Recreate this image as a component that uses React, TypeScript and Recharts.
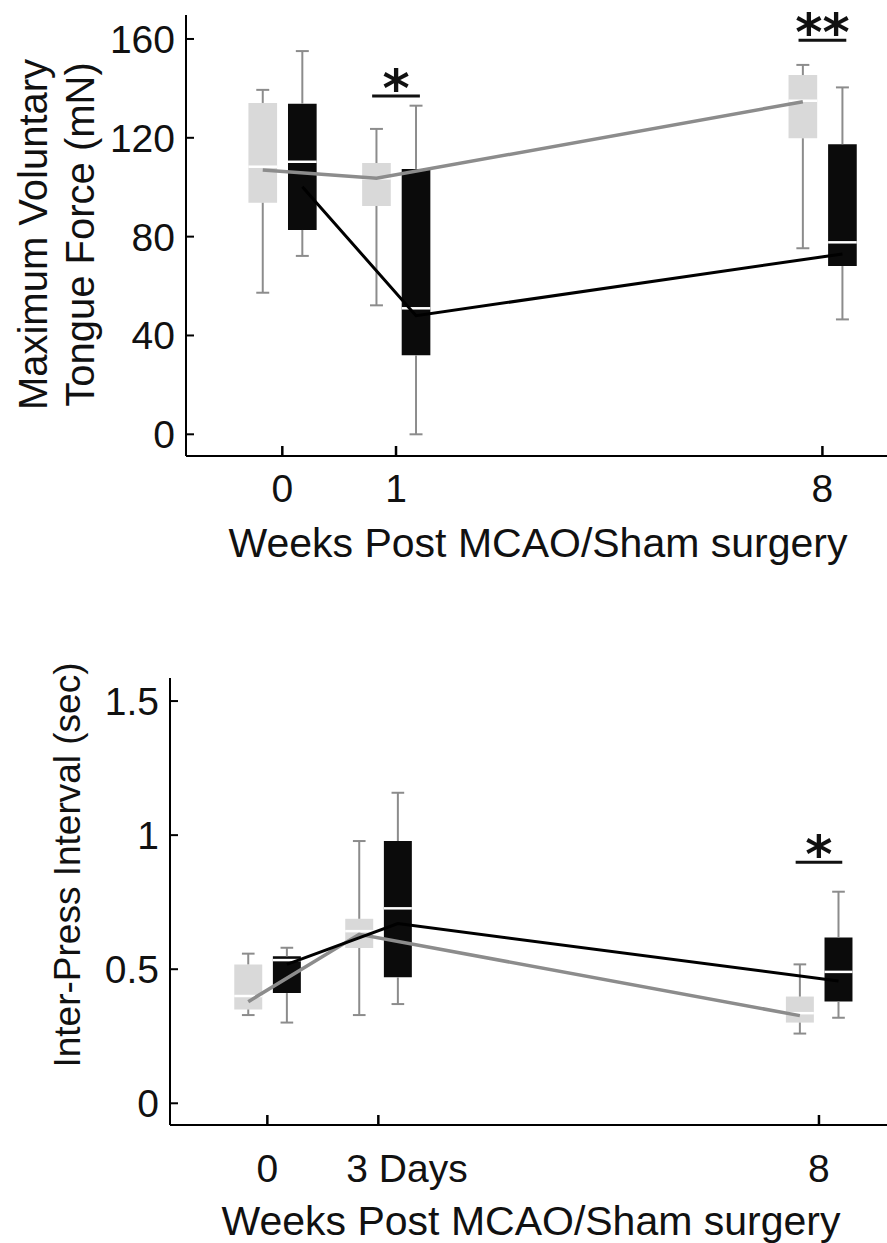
import React from "react";
import {
  ComposedChart,
  Line,
  XAxis,
  YAxis,
  ReferenceArea,
  ReferenceLine,
  ReferenceDot,
  Label,
} from "recharts";

const FONT = '"Liberation Sans", Arial, Helvetica, sans-serif';
const STAR_FONT = '"DejaVu Sans", "Liberation Sans", sans-serif';
const INK = "#111";
const WHISKER = "#8c8c8c";
const SHAM_BOX = "#d9d9d9";
const MCAO_BOX = "#0b0b0b";
const SHAM_LINE = "#8c8c8c";
const MCAO_LINE = "#000";

// ---- top panel: maximum voluntary tongue force (mN)
const forceWeeks = ["0", "1", "8"];
const forceWeekPos = [0, 1, 4.75];
const forceTicks = [0, 40, 80, 120, 160];
const forceShamHigh = [139.4, 123.6, 149.5];
const forceShamQ3 = [134.1, 109.8, 145.4];
const forceShamMedian = [108.3, 103.6, 135];
const forceShamQ1 = [93.7, 92.4, 119.8];
const forceShamLow = [57.3, 52.2, 75.3];
const forceShamMean = [107, 103.6, 134.6];
const forceMcaoHigh = [155.1, 133, 140.4];
const forceMcaoQ3 = [133.8, 107.4, 117.4];
const forceMcaoMedian = [110.3, 51, 77.7];
const forceMcaoQ1 = [82.7, 32, 68.1];
const forceMcaoLow = [72.2, 0, 46.5];
const forceMcaoMean = [100.2, 48, 73];
const forceSig = [
  { at: 1, y: 136.9, mark: "*" },
  { at: 2, y: 159.5, mark: "**" },
];

// ---- bottom panel: inter-press interval (sec)
const ipiWeeks = ["0", "3 Days", "8"];
const ipiWeekPos = [0, 1, 4.97];
const ipiTicks = [0, 0.5, 1, 1.5];
const ipiShamHigh = [0.558, 0.978, 0.518];
const ipiShamQ3 = [0.518, 0.688, 0.398];
const ipiShamMedian = [0.4, 0.642, 0.336];
const ipiShamQ1 = [0.35, 0.579, 0.301];
const ipiShamLow = [0.329, 0.329, 0.26];
const ipiShamMean = [0.379, 0.63, 0.327];
const ipiMcaoHigh = [0.58, 1.158, 0.789];
const ipiMcaoQ3 = [0.548, 0.978, 0.618];
const ipiMcaoMedian = [0.534, 0.727, 0.49];
const ipiMcaoQ1 = [0.411, 0.47, 0.38];
const ipiMcaoLow = [0.301, 0.37, 0.319];
const ipiMcaoMean = [0.518, 0.67, 0.456];
const ipiSig = [{ at: 2, y: 0.899, mark: "*" }];

// box geometry, in x-axis units (one unit = gap between first two time points)
const SHAM_OFF = -0.172;
const MCAO_OFF = 0.176;
const HALF_BOX = 0.126;
const HALF_CAP = 0.057;
const HALF_SIG = 0.21;

interface BoxSeries {
  high: number[];
  q3: number[];
  median: number[];
  q1: number[];
  low: number[];
}

function boxAreas(key: string, pos: number[], off: number, s: BoxSeries, fill: string) {
  return pos.map((p, i) => (
    <ReferenceArea
      key={`${key}-box-${i}`}
      x1={p + off - HALF_BOX}
      x2={p + off + HALF_BOX}
      y1={s.q1[i]}
      y2={s.q3[i]}
      fill={fill}
      fillOpacity={1}
      stroke="none"
      ifOverflow="visible"
    />
  ));
}

function boxLines(key: string, pos: number[], off: number, s: BoxSeries) {
  const out: React.ReactElement[] = [];
  pos.forEach((p, i) => {
    const x = p + off;
    const w = { stroke: WHISKER, strokeWidth: 2, ifOverflow: "visible" as const };
    out.push(
      <ReferenceLine key={`${key}-wl-${i}`} segment={[{ x, y: s.low[i] }, { x, y: s.q1[i] }]} {...w} />,
      <ReferenceLine key={`${key}-wh-${i}`} segment={[{ x, y: s.q3[i] }, { x, y: s.high[i] }]} {...w} />,
      <ReferenceLine key={`${key}-cl-${i}`} segment={[{ x: x - HALF_CAP, y: s.low[i] }, { x: x + HALF_CAP, y: s.low[i] }]} {...w} />,
      <ReferenceLine key={`${key}-ch-${i}`} segment={[{ x: x - HALF_CAP, y: s.high[i] }, { x: x + HALF_CAP, y: s.high[i] }]} {...w} />,
      <ReferenceLine
        key={`${key}-md-${i}`}
        segment={[{ x: x - HALF_BOX, y: s.median[i] }, { x: x + HALF_BOX, y: s.median[i] }]}
        stroke="#fff"
        strokeWidth={2.5}
        ifOverflow="visible"
      />
    );
  });
  return out;
}

function sigMarks(key: string, pos: number[], sig: { at: number; y: number; mark: string }[]) {
  const out: React.ReactElement[] = [];
  sig.forEach((s, i) => {
    const c = pos[s.at];
    out.push(
      <ReferenceLine
        key={`${key}-sig-${i}`}
        segment={[{ x: c - HALF_SIG, y: s.y }, { x: c + HALF_SIG, y: s.y }]}
        stroke="#111"
        strokeWidth={3}
        ifOverflow="visible"
      />,
      <ReferenceDot
        key={`${key}-star-${i}`}
        x={c}
        y={s.y}
        r={0}
        ifOverflow="visible"
        // eslint-disable-next-line @typescript-eslint/no-explicit-any
        shape={(p: any) => (
          <text x={p.cx} y={p.cy + 9.5} textAnchor="middle" fontSize={52} fontWeight={700} fontFamily={STAR_FONT} fill={INK}>
            {s.mark}
          </text>
        )}
      />
    );
  });
  return out;
}

const meanData = (pos: number[], off: number, vals: number[]) =>
  pos.map((p, i) => ({ x: p + off, y: vals[i] }));

// eslint-disable-next-line @typescript-eslint/no-explicit-any
const makeYTick = () => (props: any) => {
  const { x, y, payload } = props;
  return (
    <g>
      <line x1={x} x2={x + 8} y1={y} y2={y} stroke="#000" strokeWidth={2} />
      <text x={x - 11} y={y + 14} textAnchor="end" fontSize={39} fontFamily={FONT} fill={INK}>
        {String(payload.value)}
      </text>
    </g>
  );
};

// eslint-disable-next-line @typescript-eslint/no-explicit-any
const makeXTick = (pos: number[], labels: string[], drop: number) => (props: any) => {
  const { x, y, payload } = props;
  const label = labels[pos.indexOf(payload.value)] ?? "";
  const wordy = label.length > 2;
  return (
    <g>
      <line x1={x} x2={x} y1={y} y2={y - 10} stroke="#000" strokeWidth={2.5} />
      <text
        x={wordy ? x - 32 : x}
        y={y + drop}
        textAnchor={wordy ? "start" : "middle"}
        fontSize={39}
        fontFamily={FONT}
        fill={INK}
      >
        {label}
      </text>
    </g>
  );
};

const axisLine = { stroke: "#000", strokeWidth: 2 };

function ForcePanel() {
  const sham: BoxSeries = { high: forceShamHigh, q3: forceShamQ3, median: forceShamMedian, q1: forceShamQ1, low: forceShamLow };
  const mcao: BoxSeries = { high: forceMcaoHigh, q3: forceMcaoQ3, median: forceMcaoMedian, q1: forceMcaoQ1, low: forceMcaoLow };
  return (
    <ComposedChart width={887} height={580} margin={{ top: 15, right: 0, bottom: 0, left: 0 }}>
      <XAxis
        type="number"
        dataKey="x"
        domain={[-0.847, 5.318]}
        allowDataOverflow
        ticks={forceWeekPos}
        interval={0}
        height={124}
        axisLine={axisLine}
        tickLine={false}
        tickSize={0}
        tickMargin={0}
        tick={makeXTick(forceWeekPos, forceWeeks, 46)}
      >
        <Label
          // eslint-disable-next-line @typescript-eslint/no-explicit-any
          content={(p: any) => {
            const vb = p.viewBox ?? { x: 186, y: 456, width: 701 };
            return (
              <text x={vb.x + vb.width / 2 + 1.5} y={vb.y + 101} textAnchor="middle" fontSize={41} fontFamily={FONT} fill={INK}>
                Weeks Post MCAO/Sham surgery
              </text>
            );
          }}
        />
      </XAxis>
      <YAxis
        type="number"
        dataKey="y"
        domain={[-8.78, 169.7]}
        allowDataOverflow
        ticks={forceTicks}
        interval={0}
        width={186}
        axisLine={axisLine}
        tickLine={false}
        tickSize={0}
        tickMargin={0}
        tick={makeYTick()}
      >
        <Label
          // eslint-disable-next-line @typescript-eslint/no-explicit-any
          content={(p: any) => {
            const vb = p.viewBox ?? { x: 0, y: 15, height: 441 };
            const cy = vb.y + vb.height / 2 - 1;
            const bx = vb.x + 47;
            return (
              <text transform={`rotate(-90, ${bx}, ${cy})`} x={bx} y={cy} textAnchor="middle" fontSize={40} fontFamily={FONT} fill={INK}>
                <tspan x={bx} dy={0}>Maximum Voluntary</tspan>
                <tspan x={bx} dy={47}>Tongue Force (mN)</tspan>
              </text>
            );
          }}
        />
      </YAxis>

      {boxAreas("fs", forceWeekPos, SHAM_OFF, sham, SHAM_BOX)}
      {boxAreas("fm", forceWeekPos, MCAO_OFF, mcao, MCAO_BOX)}
      {boxLines("fs", forceWeekPos, SHAM_OFF, sham)}
      {boxLines("fm", forceWeekPos, MCAO_OFF, mcao)}

      <Line data={meanData(forceWeekPos, SHAM_OFF, forceShamMean)} dataKey="y" stroke={SHAM_LINE} strokeWidth={3.5} dot={false} activeDot={false} isAnimationActive={false} />
      <Line data={meanData(forceWeekPos, MCAO_OFF, forceMcaoMean)} dataKey="y" stroke={MCAO_LINE} strokeWidth={3} dot={false} activeDot={false} isAnimationActive={false} />

      {sigMarks("f", forceWeekPos, forceSig)}
    </ComposedChart>
  );
}

function IpiPanel() {
  const sham: BoxSeries = { high: ipiShamHigh, q3: ipiShamQ3, median: ipiShamMedian, q1: ipiShamQ1, low: ipiShamLow };
  const mcao: BoxSeries = { high: ipiMcaoHigh, q3: ipiMcaoQ3, median: ipiMcaoMedian, q1: ipiMcaoQ1, low: ipiMcaoLow };
  return (
    <ComposedChart width={887} height={623} margin={{ top: 58, right: 0, bottom: 0, left: 0 }}>
      <XAxis
        type="number"
        dataKey="x"
        domain={[-0.877, 5.583]}
        allowDataOverflow
        ticks={ipiWeekPos}
        interval={0}
        height={118}
        axisLine={axisLine}
        tickLine={false}
        tickSize={0}
        tickMargin={0}
        tick={makeXTick(ipiWeekPos, ipiWeeks, 57)}
      >
        <Label
          // eslint-disable-next-line @typescript-eslint/no-explicit-any
          content={(p: any) => {
            const vb = p.viewBox ?? { x: 170, y: 505, width: 717 };
            return (
              <text x={vb.x + vb.width / 2 + 2.5} y={vb.y + 110} textAnchor="middle" fontSize={41} fontFamily={FONT} fill={INK}>
                Weeks Post MCAO/Sham surgery
              </text>
            );
          }}
        />
      </XAxis>
      <YAxis
        type="number"
        dataKey="y"
        domain={[-0.081, 1.586]}
        allowDataOverflow
        ticks={ipiTicks}
        interval={0}
        width={170}
        axisLine={axisLine}
        tickLine={false}
        tickSize={0}
        tickMargin={0}
        tick={makeYTick()}
      >
        <Label
          // eslint-disable-next-line @typescript-eslint/no-explicit-any
          content={(p: any) => {
            const vb = p.viewBox ?? { x: 0, y: 58, height: 447 };
            const cy = vb.y + 187;
            const bx = vb.x + 80;
            return (
              <text transform={`rotate(-90, ${bx}, ${cy})`} x={bx} y={cy} textAnchor="middle" fontSize={37} fontFamily={FONT} fill={INK}>
                Inter-Press Interval (sec)
              </text>
            );
          }}
        />
      </YAxis>

      {boxAreas("is", ipiWeekPos, SHAM_OFF, sham, SHAM_BOX)}
      {boxAreas("im", ipiWeekPos, MCAO_OFF, mcao, MCAO_BOX)}
      {boxLines("is", ipiWeekPos, SHAM_OFF, sham)}
      {boxLines("im", ipiWeekPos, MCAO_OFF, mcao)}

      <Line data={meanData(ipiWeekPos, SHAM_OFF, ipiShamMean)} dataKey="y" stroke={SHAM_LINE} strokeWidth={3.5} dot={false} activeDot={false} isAnimationActive={false} />
      <Line data={meanData(ipiWeekPos, MCAO_OFF, ipiMcaoMean)} dataKey="y" stroke={MCAO_LINE} strokeWidth={3} dot={false} activeDot={false} isAnimationActive={false} />

      {sigMarks("i", ipiWeekPos, ipiSig)}
    </ComposedChart>
  );
}

export default function App() {
  return (
    <div style={{ position: "absolute", left: 0, top: 0, width: 887, height: 1243, background: "#fff" }}>
      <div style={{ position: "absolute", left: 0, top: 0 }}>
        <ForcePanel />
      </div>
      <div style={{ position: "absolute", left: 0, top: 620 }}>
        <IpiPanel />
      </div>
    </div>
  );
}
